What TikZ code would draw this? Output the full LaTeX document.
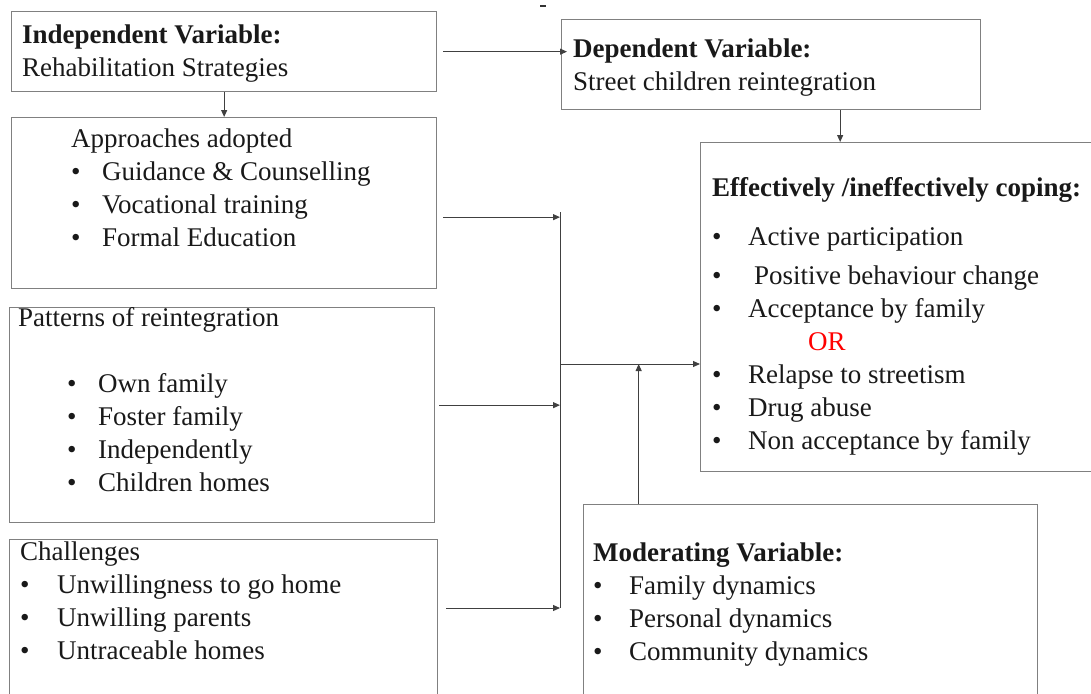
\documentclass[tikz,border=0pt]{standalone}
\usepackage{fontspec}
\setmainfont{Liberation Serif}
\usepackage{xcolor}
\usepackage{tikz}
\usetikzlibrary{arrows.meta}

\newcommand{\itm}[2][31pt]{\makebox[#1][l]{\textbullet}#2}

\begin{document}
\begin{tikzpicture}[
      x=1pt, y=-1pt,
      box/.style={draw=gray, line width=1.3pt, anchor=north west, inner sep=0pt},
      txt/.style={anchor=north west, inner sep=0pt, align=left, text=black!90, font=\fontsize{27}{33}\selectfont},
      conn/.style={draw=black!75, line width=1pt, -{Triangle[length=7pt, width=6pt]}},
      trunk/.style={draw=black!75, line width=1pt}
    ]
    \useasboundingbox (0,0) rectangle (1091,693);
    \clip (0,0) rectangle (1091,693);

    % Boxes
    \node[box, minimum width=425pt, minimum height=80pt] (indep) at (11,11) {};
    \node[box, minimum width=425pt, minimum height=171pt] (appr) at (11,117) {};
    \node[box, minimum width=425pt, minimum height=215pt] (patt) at (9,307) {};
    \node[box, minimum width=428pt, minimum height=170pt] (chal) at (9,539) {};
    \node[box, minimum width=419pt, minimum height=90pt] (dep) at (561,19) {};
    \node[box, minimum width=400pt, minimum height=329pt] (eff) at (700,142) {};
    \node[box, minimum width=454pt, minimum height=200pt] (mod) at (583,504) {};

    % Texts
    \node[txt] (indeptxt) at (22,25) {\textbf{Independent Variable:}\\Rehabilitation Strategies};
    \node[txt] (apprtxt) at (71,129) {Approaches adopted\\
      \itm{Guidance \& Counselling}\\
      \itm{Vocational training}\\
      \itm{Formal Education}};
    \node[txt] (patttxt) at (18,307) {Patterns of reintegration\\[33pt]
      \hspace*{49pt}\itm{Own family}\\
      \hspace*{49pt}\itm{Foster family}\\
      \hspace*{49pt}\itm{Independently}\\
      \hspace*{49pt}\itm{Children homes}};
    \node[txt] (chaltxt) at (20,542) {Challenges\\
      \itm[37pt]{Unwillingness to go home}\\
      \itm[37pt]{Unwilling parents}\\
      \itm[37pt]{Untraceable homes}};
    \node[txt] (deptxt) at (573,39) {\textbf{Dependent Variable:}\\Street children reintegration};
    \node[txt] (efftxt) at (712,177) {\textbf{Effectively /ineffectively coping:}\\[16pt]
      \itm[36pt]{Active participation}\\[6pt]
      \itm[42pt]{Positive behaviour change}\\
      \itm[36pt]{Acceptance by family}\\
      \hspace*{96pt}\textcolor{red}{OR}\\
      \itm[36pt]{Relapse to streetism}\\
      \itm[36pt]{Drug abuse}\\
      \itm[36pt]{Non acceptance by family}};
    \node[txt] (modtxt) at (593,543) {\textbf{Moderating Variable:}\\
      \itm[36pt]{Family dynamics}\\
      \itm[36pt]{Personal dynamics}\\
      \itm[36pt]{Community dynamics}};

    % Junction line
    \coordinate (jtop) at (560,212);
    \coordinate (jmid) at (560,364);
    \coordinate (jbot) at (560,608);
    \coordinate (aout) at ([shift={(6,14)}]appr.east);
    \coordinate (pout) at ([shift={(4,-10)}]patt.east);
    \coordinate (cout) at ([shift={(8,69)}]chal.north east);
    \draw[trunk] (jtop) -- (jbot);

    % Arrows
    \draw[conn] ([xshift=6pt]indep.east) -- ([xshift=6pt]indep.east -| dep.west);
    \draw[conn] (indep.south) -- (appr.north);
    \draw[conn] ([xshift=69pt]dep.south) -- ([xshift=69pt]dep.south |- eff.north);
    \draw[conn] (aout) -- (aout -| jtop);
    \draw[conn] (pout) -- (pout -| jtop);
    \draw[conn] (cout) -- (cout -| jtop);
    \draw[conn] (jmid) -- (jmid -| eff.west);
    \draw[conn] ([xshift=-172pt]mod.north) -- ([xshift=-172pt]mod.north |- jmid);

    % stray mark
    \draw[black!80, line width=2pt] (540,6) -- (546,6);
  \end{tikzpicture}
\end{document}
